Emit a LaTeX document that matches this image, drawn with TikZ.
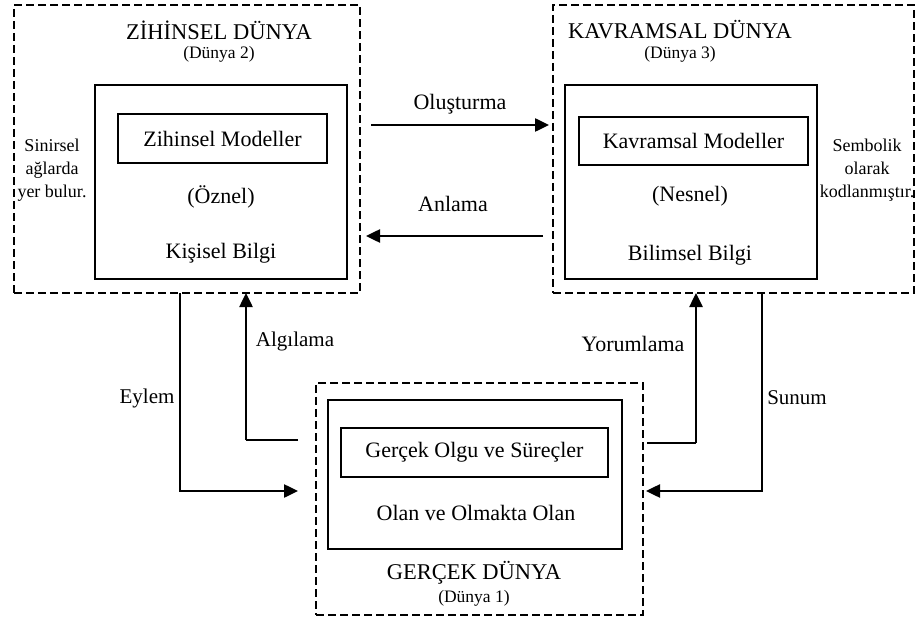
\documentclass[tikz,border=0pt]{standalone}
\usepackage{fontspec}
\setmainfont{Liberation Serif}
\usetikzlibrary{arrows.meta}
\begin{document}
\begin{tikzpicture}[x=1bp,y=-1bp,
  dbox/.style={draw, dash pattern=on 8bp off 4bp, line width=1.3bp, inner sep=0pt},
  sbox/.style={draw, line width=1.3bp, inner sep=0pt},
  ttl/.style={font=\fontsize{22.5bp}{24bp}\selectfont, inner sep=0pt},
  sub/.style={font=\fontsize{17.5bp}{19bp}\selectfont, inner sep=0pt},
  txt/.style={font=\fontsize{22bp}{24bp}\selectfont, inner sep=0pt},
  note/.style={font=\fontsize{18bp}{23bp}\selectfont, align=center, inner sep=0pt},
  arr/.style={line width=2.5bp, -{Triangle[length=14bp,width=13bp]}},
  thn/.style={line width=1.1bp}]
\useasboundingbox (0,0) rectangle (916,619);
% boxes
\node[dbox, minimum width=346bp, minimum height=288bp] (ld) at (187,149) {};
\node[sbox, minimum width=252bp, minimum height=194bp] (li) at (221,182) {};
\node[sbox, minimum width=209bp, minimum height=49bp] (lm) at (222.5,138.5) {};
\node[dbox, minimum width=361bp, minimum height=288bp] (rd) at (733.5,149) {};
\node[sbox, minimum width=252bp, minimum height=194bp] (ri) at (691,182) {};
\node[sbox, minimum width=229bp, minimum height=48bp] (rm) at (693.5,141) {};
\node[dbox, minimum width=327bp, minimum height=232bp] (bd) at (479.5,499) {};
\node[sbox, minimum width=294bp, minimum height=149bp] (bi) at (475,474.5) {};
\node[sbox, minimum width=267bp, minimum height=49bp] (bm) at (474.5,452.5) {};
% texts
\node[ttl] (t2) at (219,30) {ZİHİNSEL DÜNYA};
\node[sub] (s2) at (219,54) {(Dünya 2)};
\node[txt] at (lm) {Zihinsel Modeller};
\node[txt] (oz) at (221,197) {(Öznel)};
\node[txt] (kb) at (221,253) {Kişisel Bilgi};
\node[note] (n2) at (52,170) {Sinirsel\\ağlarda\\yer bulur.};
\node[ttl] (t3) at (680,30) {KAVRAMSAL DÜNYA};
\node[sub] (s3) at (680,54) {(Dünya 3)};
\node[txt] at (rm) {Kavramsal Modeller};
\node[txt] (ne) at (690,196) {(Nesnel)};
\node[txt] (bb) at (690,255) {Bilimsel Bilgi};
\node[note] (n3) at (867,170) {Sembolik\\olarak\\kodlanmıştır.};
\node[txt] at (bm) {Gerçek Olgu ve Süreçler};
\node[txt] (oo) at (476,513) {Olan ve Olmakta Olan};
\node[ttl] (t1) at (474,573) {GERÇEK DÜNYA};
\node[sub] (s1) at (474,598) {(Dünya 1)};
% arrow labels
\node[txt] (lo) at (460,104) {Oluşturma};
\node[txt] (la) at (453,204) {Anlama};
\node[txt, font=\fontsize{21bp}{24bp}\selectfont] (lal) at (295,341) {Algılama};
\node[txt] (lyo) at (633,344) {Yorumlama};
\node[txt, font=\fontsize{21bp}{24bp}\selectfont] (ley) at (147,398) {Eylem};
\node[txt, font=\fontsize{21bp}{24bp}\selectfont] (lsu) at (797,398) {Sunum};
% connector coordinates
\coordinate (o1) at (371,125);
\coordinate (o2) at (549,125);
\coordinate (a1) at (543,236);
\coordinate (a2) at (366,236);
\coordinate (e1) at (180,293);
\coordinate (e2) at (298,491);
\coordinate (g1) at (298,440);
\coordinate (g2) at (246,440);
\coordinate (g3) at (246,293);
\coordinate (y1) at (647,443);
\coordinate (y2) at (696,443);
\coordinate (y3) at (696,293);
\coordinate (u1) at (762,293);
\coordinate (u2) at (646,491);
% connectors
\draw[arr] (o1) -- (o2);
\draw[arr] (a1) -- (a2);
\draw[arr] (e1) |- (e2);
\draw[thn] (g1) -- (g2);
\draw[arr] (g2) -- (g3);
\draw[thn] (y1) -- (y2);
\draw[arr] (y2) -- (y3);
\draw[arr] (u1) |- (u2);
\end{tikzpicture}
\end{document}
